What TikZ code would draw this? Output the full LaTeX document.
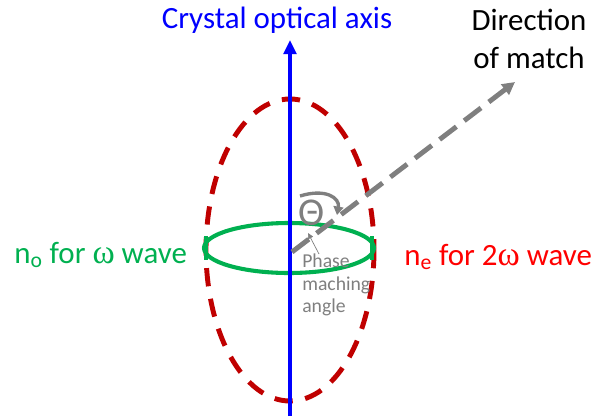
\documentclass[tikz,border=0pt]{standalone}
\usepackage{fontspec}
\setmainfont{Carlito}
\newfontfamily\omegafont{Liberation Serif}
\usetikzlibrary{arrows.meta}
\definecolor{axisblue}{RGB}{0,0,255}
\definecolor{wavered}{RGB}{192,0,0}
\definecolor{labelred}{RGB}{255,0,0}
\definecolor{wavegreen}{RGB}{0,176,80}
\definecolor{matchgray}{RGB}{127,127,127}
\newcommand{\omegasign}{{\omegafont\fontsize{24}{27}\selectfont ω}}
\tikzset{
  bigtext/.style={font=\fontsize{22}{27}\selectfont, inner sep=0pt},
  smalltext/.style={font=\fontsize{14}{16}\selectfont, inner sep=0pt, align=left, text=matchgray}
}
\begin{document}
\begin{tikzpicture}[x=0.025cm, y=-0.025cm, >=Stealth]
        \useasboundingbox (0,0) rectangle (600,416);
        \coordinate (center) at (290,250);
        \coordinate (axisbottom) at (290,416);
        \coordinate (axistop) at (290,40);
        \coordinate (matchstart) at (292,252);
        \coordinate (matchend) at (515,82);

        % ellipses of the two indices
        \draw[wavered, line width=3.5pt, dash pattern=on 13pt off 9pt] (center) ellipse [x radius=84, y radius=151];
        \draw[wavegreen, line width=2.9pt] (289,248) ellipse [x radius=85, y radius=25];
        \draw[wavegreen, line width=2.9pt] (206,236) -- (206,260) (372,236) -- (372,260);

        % optical axis and direction of match
        \draw[axisblue, line width=2.8pt, -{Triangle[length=10pt, width=9pt]}] (axisbottom) -- (axistop);
        \draw[matchgray, line width=3.5pt, dash pattern=on 15pt off 7pt, -{Triangle[length=9pt, width=9pt]}] (matchstart) -- (matchend);

        % angle
        \coordinate (arcstart) at (300,196);
        \coordinate (arcend) at (337,215);
        \draw[matchgray, line width=2.4pt, -{Triangle[length=6pt, width=7pt]}] (arcstart) .. controls (326,188) and (340,198) .. (arcend);
        \node[font=\fontsize{28}{30}\selectfont, inner sep=0pt, text=matchgray] (theta) at (312,213) {Θ};

        \node[smalltext, anchor=north west] (phase) at (302,254) {Phase\\maching\\angle};
        \draw[matchgray, line width=0.5pt, -{Triangle[length=4pt, width=4pt]}] (phase.north west) ++(17,0) coordinate (pointfoot) -- (308,233);

        % labels
        \node[bigtext, text=axisblue] (axislabel) at (277,20) {Crystal optical axis};
        \node[bigtext, align=center] (matchlabel) at (529,39) {Direction\\of match};
        \node[bigtext, text=wavegreen, anchor=west] (olabel) at (14,255) {n\textsubscript{o} for \omegasign{} wave};
        \node[bigtext, text=labelred, anchor=west] (elabel) at (404,257) {n\textsubscript{e} for 2\omegasign{} wave};
\end{tikzpicture}
\end{document}
